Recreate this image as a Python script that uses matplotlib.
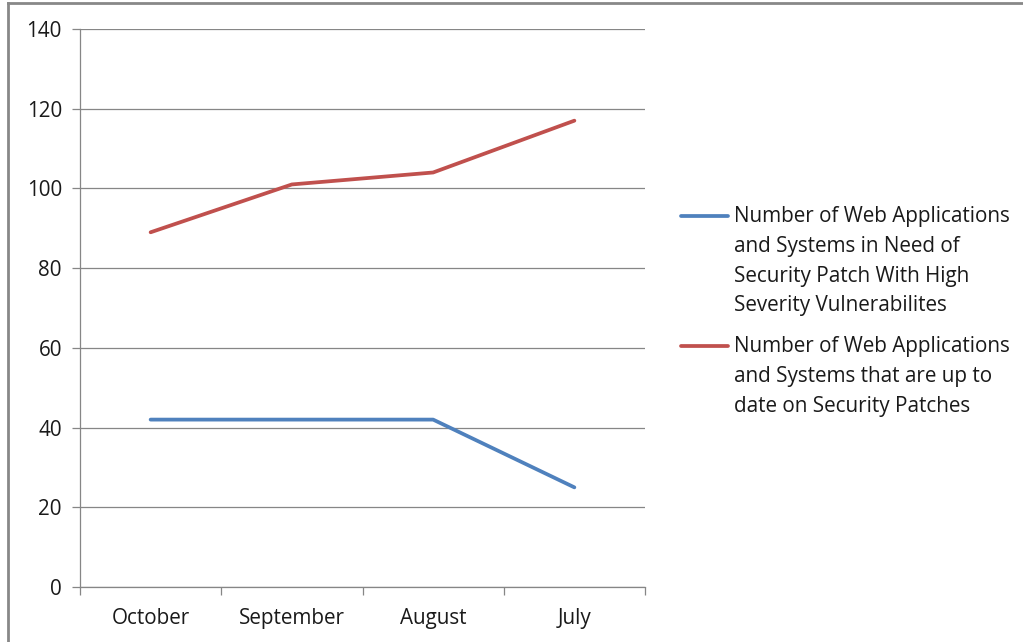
import matplotlib
matplotlib.use('Agg')
import matplotlib.pyplot as plt
from matplotlib.lines import Line2D

# Data
months = ['October', 'September', 'August', 'July']
need_patch = [42, 42, 42, 25]
up_to_date = [89, 101, 104, 117]
labels = ['Number of Web Applications\nand Systems in Need of\nSecurity Patch With High\nSeverity Vulnerabilites',
          'Number of Web Applications\nand Systems that are up to\ndate on Security Patches']
y_ticks = [0, 20, 40, 60, 80, 100, 120, 140]

W, H = 1023, 642
plt.rcParams['font.family'] = ['Open Sans', 'DejaVu Sans']
fig = plt.figure(figsize=(W / 100, H / 100), dpi=100)
ax = fig.add_axes([80 / W, 1 - 587 / H, (645 - 80) / W, (587 - 29) / H])

blue = '#4F81BD'
red = '#C0504D'
grid_c = '#868686'
fs = 14.9

x = list(range(len(months)))
ax.plot(x, need_patch, color=blue, lw=2.7, solid_capstyle='round')
ax.plot(x, up_to_date, color=red, lw=2.7, solid_capstyle='round')

ax.set_xlim(-0.5, len(months) - 0.5)
ax.set_ylim(0, 140)
ax.set_yticks(y_ticks)
ax.set_yticklabels([str(v) for v in y_ticks], fontsize=fs, color='#1a1a1a')
ax.yaxis.grid(True, color=grid_c, lw=0.9)
ax.set_axisbelow(True)
ax.tick_params(axis='y', length=6, width=0.9, color=grid_c, pad=7)

ax.set_xticks(x)
ax.set_xticklabels(months, fontsize=fs, color='#1a1a1a')
ax.set_xticks([i - 0.5 for i in range(len(months) + 1)], minor=True)
ax.tick_params(axis='x', which='major', length=0, pad=15)
ax.tick_params(axis='x', which='minor', length=6, width=0.9, color=grid_c)

for s in ['top', 'right']:
    ax.spines[s].set_visible(False)
for s in ['left', 'bottom']:
    ax.spines[s].set_color(grid_c)
    ax.spines[s].set_linewidth(0.9)

# legend drawn to match the original layout
for color, label, yl in zip([blue, red], labels, [216, 346]):
    fig.add_artist(Line2D([681 / W, 728 / W], [1 - yl / H, 1 - yl / H],
                          color=color, lw=2.7, solid_capstyle='round'))
    fig.text(734 / W, 1 - (yl - 10) / H, label, fontsize=fs, va='top', ha='left',
             linespacing=1.55, color='#1a1a1a')

# outer frame (left and top edges visible in the screenshot)
fig.add_artist(Line2D([8 / W, 8 / W], [0, 1 - 3 / H], color='#888888', lw=2))
fig.add_artist(Line2D([8 / W, 1], [1 - 3 / H, 1 - 3 / H], color='#888888', lw=2))

fig.savefig('out.png', dpi=100)
